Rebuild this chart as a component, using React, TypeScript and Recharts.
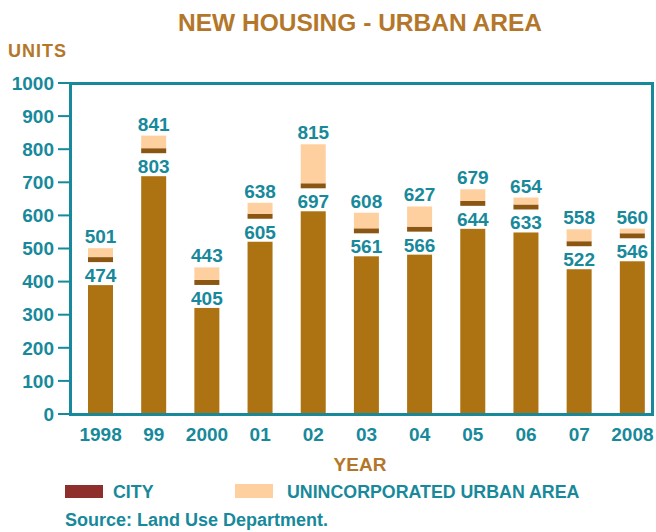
import React from 'react';
import { BarChart, Bar, XAxis, YAxis, LabelList } from 'recharts';

const years = ['1998', '99', '2000', '01', '02', '03', '04', '05', '06', '07', '2008'];
const cityValues = [474, 803, 405, 605, 697, 561, 566, 644, 633, 522, 546];
const unincorporatedValues = [27, 38, 38, 33, 118, 47, 61, 35, 21, 36, 14];
const totalValues = [501, 841, 443, 638, 815, 608, 627, 679, 654, 558, 560];
const yTicks = [0, 100, 200, 300, 400, 500, 600, 700, 800, 900, 1000];

const data = years.map((year, i) => ({
  year,
  city: cityValues[i],
  unincorporated: unincorporatedValues[i],
  total: totalValues[i],
}));

const TEAL = '#17899B';
const GOLD = '#B4772A';
const BROWN = '#AD7312';
const BAND = '#8A5611';
const PEACH = '#FFD09F';
const CITY_RED = '#8E2F2B';
const FONT = '"Liberation Sans", Arial, sans-serif';

const BAND_H = 5;
const GAP = 23;

const CityShape = (props: any) => {
  const { x, y, width, height } = props;
  if (height <= 0) return null;
  const brownTop = y + BAND_H + GAP;
  return (
    <g>
      <rect x={x} y={y} width={width} height={BAND_H} fill={BAND} />
      {brownTop < y + height && (
        <rect x={x} y={brownTop} width={width} height={y + height - brownTop} fill={BROWN} />
      )}
    </g>
  );
};

const CityLabel = (props: any) => {
  const { x, y, width, value } = props;
  return (
    <text
      x={x + width / 2}
      y={y + BAND_H + GAP - 3}
      textAnchor="middle"
      fill={TEAL}
      fontSize={19}
      fontWeight="bold"
      fontFamily={FONT}
    >
      {value}
    </text>
  );
};

const TotalLabel = (props: any) => {
  const { x, y, width, index } = props;
  return (
    <text
      x={x + width / 2}
      y={y - 5}
      textAnchor="middle"
      fill={TEAL}
      fontSize={19}
      fontWeight="bold"
      fontFamily={FONT}
    >
      {totalValues[index]}
    </text>
  );
};

export default function App() {
  return (
    <div style={{ position: 'absolute', left: 0, top: 0, width: 656, height: 532, background: '#fff', overflow: 'hidden' }}>
      <BarChart
        width={659}
        height={532}
        data={data}
        margin={{ top: 83, right: 0, bottom: 88, left: 0 }}
        barSize={25}
        style={{ fontFamily: FONT }}
      >
        <YAxis
          width={70}
          domain={[0, 1000]}
          ticks={yTicks}
          interval={0}
          axisLine={false}
          tickSize={12}
          tickMargin={4}
          tickLine={{ stroke: TEAL, strokeWidth: 2 }}
          tick={{ fill: TEAL, fontSize: 19, fontWeight: 'bold', fontFamily: FONT }}
        />
        <XAxis
          dataKey="year"
          height={30}
          interval={0}
          axisLine={false}
          tickLine={false}
          tickSize={0}
          tickMargin={14}
          padding={{ left: 4, right: 0 }}
          tick={{ fill: TEAL, fontSize: 19, fontWeight: 'bold', fontFamily: FONT }}
        />
        <Bar dataKey="city" stackId="a" fill={BROWN} shape={<CityShape />} isAnimationActive={false}>
          <LabelList dataKey="city" content={<CityLabel />} />
        </Bar>
        <Bar dataKey="unincorporated" stackId="a" fill={PEACH} isAnimationActive={false}>
          <LabelList dataKey="unincorporated" content={<TotalLabel />} />
        </Bar>
      </BarChart>
      <div
        style={{
          position: 'absolute',
          left: 69,
          top: 82,
          width: 585,
          height: 334,
          border: `3px solid ${TEAL}`,
          boxSizing: 'border-box',
          pointerEvents: 'none',
        }}
      />
      <svg width={656} height={532} style={{ position: 'absolute', left: 0, top: 0, pointerEvents: 'none' }}>
        <text x={360} y={31} textAnchor="middle" fill={GOLD} fontSize={24.5} fontWeight="bold" fontFamily={FONT}>
          NEW HOUSING - URBAN AREA
        </text>
        <text x={8} y={57} fill={GOLD} fontSize={18} fontWeight="bold" fontFamily={FONT} letterSpacing={1}>
          UNITS
        </text>
        <text x={360} y={471} textAnchor="middle" fill={GOLD} fontSize={19} fontWeight="bold" fontFamily={FONT}>
          YEAR
        </text>
        <rect x={65} y={485} width={38} height={13} fill={CITY_RED} />
        <text x={113} y={498} fill={TEAL} fontSize={17.8} fontWeight="bold" fontFamily={FONT}>
          CITY
        </text>
        <rect x={235} y={484} width={38} height={14} fill={PEACH} />
        <text x={287} y={498} fill={TEAL} fontSize={17.8} fontWeight="bold" fontFamily={FONT}>
          UNINCORPORATED URBAN AREA
        </text>
        <text x={65} y={526} fill={TEAL} fontSize={18} fontWeight="bold" fontFamily={FONT}>
          Source: Land Use Department.
        </text>
      </svg>
    </div>
  );
}
